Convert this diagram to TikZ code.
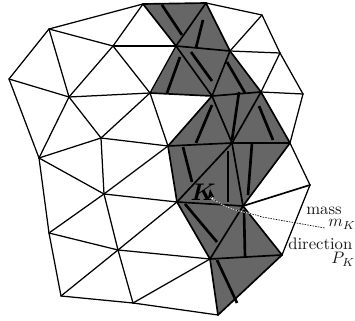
\documentclass[tikz,border=0pt]{standalone}
\usepackage{amsmath}
\usepackage{bm}
\usepackage{xcolor}
\usetikzlibrary{positioning}
\definecolor{cellgray}{RGB}{102,102,102}
\tikzset{
  cell/.style = {fill=cellgray, draw=none},
  mesh/.style = {draw, line width=0.75pt, line cap=round, line join=round},
  edgeb/.style = {draw, line width=1.0pt, line cap=round},
  dirn/.style = {draw, line width=1.6pt},
  lead/.style = {draw, line width=0.4pt, dash pattern=on 0.9pt off 0.7pt},
  lbl/.style  = {anchor=base west, inner sep=0pt, font=\fontsize{10}{12}\selectfont, black!90}
}

\begin{document}
\begin{tikzpicture}[x=0.6pt, y=-0.6pt]
\useasboundingbox (0,0) rectangle (355,321);

%% Mesh vertices (picture coordinates, top to bottom)
\coordinate (a) at (143,4);
\coordinate (b) at (206,3);
\coordinate (c) at (262,15);
\coordinate (d) at (49,29);
\coordinate (e) at (113,46);
\coordinate (f) at (176,46);
\coordinate (g) at (230,51);
\coordinate (h) at (280,53);
\coordinate (i) at (9,79);
\coordinate (j) at (69,97);
\coordinate (k) at (150,93);
\coordinate (l) at (212,96);
\coordinate (m) at (261,92);
\coordinate (n) at (303,94);
\coordinate (o) at (101,138);
\coordinate (p) at (39,158);
\coordinate (q) at (168,146);
\coordinate (r) at (232,143);
\coordinate (s) at (290,143);
\coordinate (t) at (104,194);
\coordinate (u) at (177,202);
\coordinate (v) at (243,206);
\coordinate (w) at (310,185);
\coordinate (x) at (49,233);
\coordinate (y) at (118,250);
\coordinate (z) at (210,259);
\coordinate (aa) at (282,255);
\coordinate (ab) at (61,296);
\coordinate (ac) at (133,303);
\coordinate (ad) at (218,315);

%% Shaded cells
\foreach \p/\q/\r in {a/b/f, f/b/g, f/g/l, f/k/l, g/m/l, l/m/r, m/s/r, l/q/r,
                      q/u/r, u/v/r, r/v/s, u/v/z, v/z/aa, z/aa/ad}
  \fill[cell] (\p) -- (\q) -- (\r) -- cycle;

%% Mesh edges
\foreach \p/\q in {a/d, d/i, i/p, p/x, x/ab, ab/ac, ac/ad, b/c, c/h, h/n, n/s, s/w, w/aa,
                   a/e, d/e, e/f, e/j, d/j, i/j, e/k, j/k, j/o, j/p, p/o, k/o, k/f, k/q,
                   o/q, o/t, p/t, q/t, t/u, t/x, t/y, x/y, y/u, y/ab, y/ac, y/z, ac/z,
                   c/g, g/h, h/m, m/n}
  \draw[mesh] (\p) -- (\q);

%% Edges of the shaded cells
\foreach \p/\q in {a/b, a/f, f/b, b/g, f/g, f/l, k/l, g/l, g/m, l/m, l/q, l/r, m/r, m/s,
                   q/r, r/s, q/u, u/r, r/v, u/v, v/s, u/z, v/z, v/aa, z/aa, z/ad, aa/ad, v/w}
  \draw[edgeb] (\p) -- (\q);

%% Directions
\coordinate (d1a) at (162,5);   \coordinate (d1b) at (182,35);
\coordinate (d2a) at (203,20);  \coordinate (d2b) at (196,48);
\coordinate (d3a) at (191,52);  \coordinate (d3b) at (212,81);
\coordinate (d4a) at (180,57);  \coordinate (d4b) at (167,93);
\coordinate (d5a) at (227,62);  \coordinate (d5b) at (245,93);
\coordinate (d6a) at (239,92);  \coordinate (d6b) at (232,140);
\coordinate (d7a) at (212,105); \coordinate (d7b) at (196,143);
\coordinate (d8a) at (259,106); \coordinate (d8b) at (273,140);
\coordinate (d9a) at (183,147); \coordinate (d9b) at (192,182);
\coordinate (d10a) at (228,151); \coordinate (d10b) at (228,202);
\coordinate (d11a) at (252,143); \coordinate (d11b) at (248,195);
\coordinate (d12a) at (185,204); \coordinate (d12b) at (217,242);
\coordinate (d13a) at (244,210); \coordinate (d13b) at (245,257);
\coordinate (d14a) at (217,260); \coordinate (d14b) at (237,303);
\foreach \n in {1,...,14}
  \draw[dirn] (d\n a) -- (d\n b);

%% Labels
\node[font=\Large\boldmath] (cellK) at (203,192) {$K$};
\node[lbl] (mass)  at (306,215) {mass};
\node[lbl] (mK)    at (328,227) {$m_K$};
\node[lbl] (dirl)  at (288,250) {direction};
\node[lbl] (pK)    at (331,264) {$P_K$};

%% Leader from the cell to its mass
\coordinate (tip) at (211,197);
\coordinate (leadend) at (325,228);
\fill[black] (210,189) -- (208,198) -- (214,197) -- cycle;
\draw[white, line width=0.7pt] (tip) -- +(3,3);
\draw[white, line width=0.5pt] (tip) .. controls (228,212) and (250,212) .. (262,217);
\draw[lead] (tip) .. controls (228,212) and (250,212) .. (262,217) -- (leadend);

\end{tikzpicture}
\end{document}
